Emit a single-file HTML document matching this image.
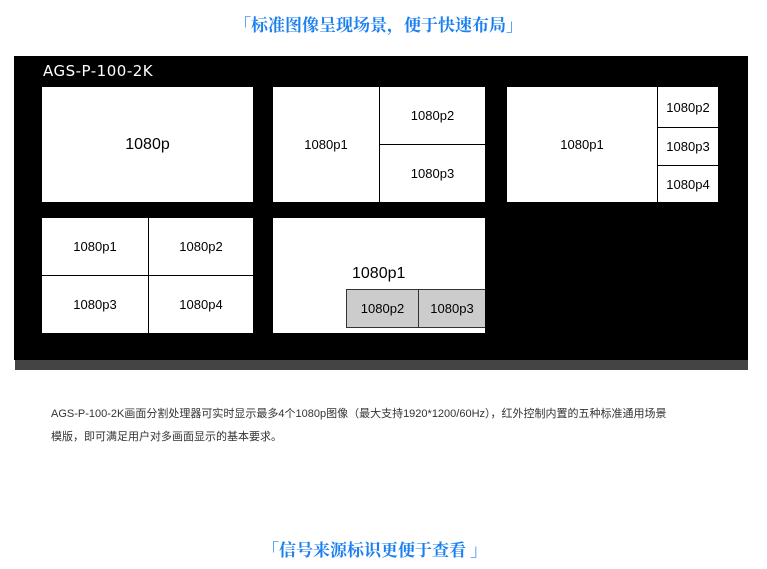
<!DOCTYPE html><html><head><meta charset="utf-8"><style>
body{margin:0;width:767px;height:569px;background:#fff;position:relative;overflow:hidden;font-family:"Liberation Sans","Noto Sans CJK SC",sans-serif}
.a{position:absolute}
.t{color:#1a7ff0;font-size:17px;font-weight:bold;font-family:"Noto Serif CJK SC","Noto Sans CJK SC",serif;white-space:nowrap}
.b{position:absolute;background:#fff;display:flex;align-items:center;justify-content:center;font-size:13px;color:#000;box-sizing:border-box}
</style></head><body>
<div class="a t" style="left:234px;top:11px">「标准图像呈现场景，便于快速布局」</div>
<div class="a" style="left:15px;top:358px;width:733px;height:12px;background:#444"></div>
<div class="a" style="left:14px;top:56px;width:734px;height:304px;background:#000"></div>
<div class="a" style="left:43px;top:62px;color:#fff;font-size:15px;font-family:'DejaVu Sans',sans-serif;letter-spacing:0.5px">AGS-P-100-2K</div>
<div class="b" style="left:42px;top:87px;width:211px;height:115px;font-size:16px">1080p</div>
<div class="b" style="left:273px;top:87px;width:106px;height:115px">1080p1</div>
<div class="b" style="left:380px;top:87px;width:105px;height:57px">1080p2</div>
<div class="b" style="left:380px;top:145px;width:105px;height:57px">1080p3</div>
<div class="b" style="left:507px;top:87px;width:150px;height:115px">1080p1</div>
<div class="b" style="left:658px;top:87px;width:60px;height:40px">1080p2</div>
<div class="b" style="left:658px;top:128px;width:60px;height:37px">1080p3</div>
<div class="b" style="left:658px;top:166px;width:60px;height:36px">1080p4</div>
<div class="b" style="left:42px;top:218px;width:106px;height:57px">1080p1</div>
<div class="b" style="left:149px;top:218px;width:104px;height:57px">1080p2</div>
<div class="b" style="left:42px;top:276px;width:106px;height:57px">1080p3</div>
<div class="b" style="left:149px;top:276px;width:104px;height:57px">1080p4</div>
<div class="b" style="left:273px;top:218px;width:212px;height:115px"></div>
<div class="a" style="left:352px;top:265px;font-size:16px">1080p1</div>
<div class="b" style="left:346px;top:289px;width:73px;height:39px;background:#ccc;border:1px solid #333">1080p2</div>
<div class="b" style="left:418px;top:289px;width:67px;height:39px;background:#ccc;border:1px solid #333;border-right:none">1080p3</div>
<div class="a" style="left:51px;top:403px;font-size:11px;line-height:23px;color:#333;width:665px">AGS-P-100-2K画面分割处理器可实时显示最多4个1080p图像（最大支持1920*1200/60Hz），红外控制内置的五种标准通用场景<br>模版，即可满足用户对多画面显示的基本要求。</div>
<div class="a t" style="left:262px;top:536px">「信号来源标识更便于查看 」</div>
</body></html>
